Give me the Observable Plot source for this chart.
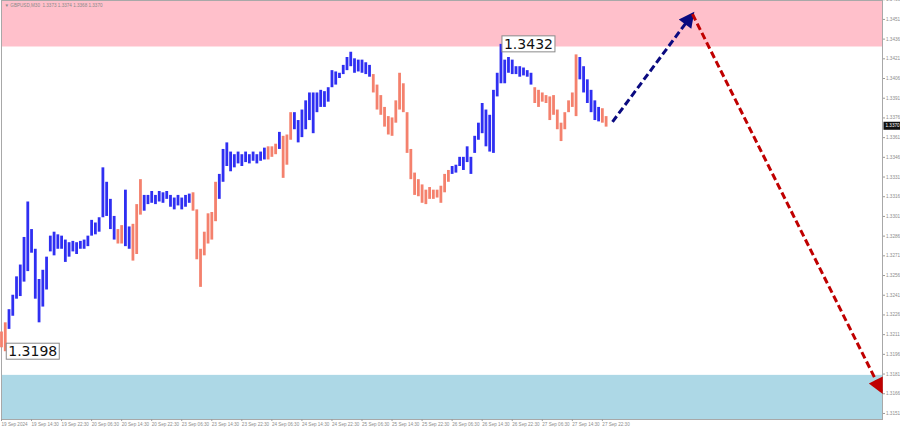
<!DOCTYPE html>
<html><head><meta charset="utf-8">
<script src="https://cdn.jsdelivr.net/npm/d3@7"></script>
<script src="https://cdn.jsdelivr.net/npm/@observablehq/plot@0.6"></script>
<style>html,body{margin:0;padding:0;background:#fff;} svg{display:block}</style>
</head><body>
<script>
// hourly bar ranges (GBPUSD M30 chart)
const highs = [1.3213,1.3220,1.3230,1.3241,1.3255,1.3264,1.3285,1.3312,1.3291,1.3276,
1.3253,1.3260,1.3270,1.3286,1.3289,1.3287,1.3286,1.3283,1.3281,1.3282,
1.3281,1.3282,1.3283,1.3286,1.3298,1.3296,1.3300,1.3338,1.3327,1.3314,
1.3301,1.3291,1.3294,1.3321,1.3293,1.3295,1.3310,1.3329,1.3317,1.3317,
1.3320,1.3317,1.3320,1.3319,1.3320,1.3317,1.3315,1.3317,1.3315,1.3317,
1.3318,1.3319,1.3306,1.3276,1.3289,1.3303,1.3304,1.3327,1.3333,1.3352,
1.3357,1.3350,1.3348,1.3350,1.3348,1.3350,1.3348,1.3350,1.3348,1.3350,
1.3353,1.3354,1.3354,1.3356,1.3365,1.3362,1.3363,1.3380,1.3380,1.3374,
1.3382,1.3389,1.3395,1.3395,1.3395,1.3397,1.3396,1.3399,1.3412,1.3411,
1.3410,1.3416,1.3422,1.3426,1.3421,1.3420,1.3420,1.3418,1.3416,1.3409,
1.3401,1.3393,1.3384,1.3377,1.3376,1.3389,1.3410,1.3402,1.3380,1.3352,
1.3334,1.3329,1.3325,1.3321,1.3323,1.3321,1.3321,1.3324,1.3333,1.3336,
1.3339,1.3340,1.3346,1.3346,1.3354,1.3346,1.3362,1.3372,1.3387,1.3382,
1.3378,1.3397,1.3410,1.3432,1.3420,1.3422,1.3420,1.3415,1.3415,1.3414,
1.3412,1.3410,1.3399,1.3397,1.3395,1.3393,1.3392,1.3393,1.3382,1.3372,
1.3380,1.3389,1.3395,1.3424,1.3422,1.3415,1.3405,1.3397,1.3389,1.3384,
1.3383,1.3377];
const lows = [1.3201,1.3198,1.3215,1.3225,1.3238,1.3240,1.3251,1.3259,1.3273,1.3238,
1.3220,1.3232,1.3245,1.3274,1.3271,1.3276,1.3276,1.3266,1.3270,1.3274,
1.3272,1.3276,1.3276,1.3278,1.3286,1.3287,1.3289,1.3300,1.3301,1.3291,
1.3283,1.3280,1.3280,1.3278,1.3276,1.3267,1.3272,1.3302,1.3305,1.3310,
1.3311,1.3310,1.3312,1.3311,1.3314,1.3308,1.3306,1.3309,1.3306,1.3308,
1.3311,1.3305,1.3268,1.3247,1.3271,1.3280,1.3283,1.3297,1.3314,1.3327,
1.3339,1.3335,1.3338,1.3341,1.3339,1.3342,1.3341,1.3343,1.3341,1.3343,
1.3344,1.3344,1.3346,1.3348,1.3352,1.3330,1.3340,1.3359,1.3367,1.3357,
1.3361,1.3367,1.3374,1.3364,1.3380,1.3384,1.3384,1.3388,1.3399,1.3401,
1.3406,1.3409,1.3412,1.3415,1.3410,1.3411,1.3410,1.3409,1.3407,1.3395,
1.3382,1.3378,1.3369,1.3363,1.3362,1.3372,1.3382,1.3380,1.3349,1.3329,
1.3317,1.3316,1.3311,1.3310,1.3314,1.3314,1.3315,1.3311,1.3319,1.3327,
1.3333,1.3334,1.3339,1.3336,1.3342,1.3333,1.3349,1.3359,1.3364,1.3354,
1.3350,1.3349,1.3392,1.3402,1.3402,1.3410,1.3409,1.3409,1.3407,1.3408,
1.3407,1.3401,1.3387,1.3384,1.3388,1.3387,1.3374,1.3378,1.3367,1.3358,
1.3367,1.3380,1.3384,1.3377,1.3405,1.3395,1.3387,1.3380,1.3374,1.3373,
1.3372,1.3369];
// wave segments: [first bar, last bar, direction]
const waves = [[0,1,"down"],[2,30,"up"],[31,32,"down"],[33,34,"up"],[35,37,"down"],
[38,50,"up"],[51,57,"down"],[58,70,"up"],[71,73,"down"],[74,74,"up"],[75,77,"down"],
[78,98,"up"],[99,119,"down"],[120,141,"up"],[142,153,"down"],[154,159,"up"],[160,161,"down"]];
const dateLabels = ["19 Sep 2024","19 Sep 14:30","19 Sep 22:30","20 Sep 06:30","20 Sep 14:30",
"20 Sep 22:30","23 Sep 06:30","23 Sep 14:30","23 Sep 22:30","24 Sep 06:30","24 Sep 14:30",
"24 Sep 22:30","25 Sep 06:30","25 Sep 14:30","25 Sep 22:30","26 Sep 06:30","26 Sep 14:30",
"26 Sep 22:30","27 Sep 06:30","27 Sep 14:30","27 Sep 22:30"];
const dateTickHours = [0,8,16,24,32,40,48,56,64,72,80,88,96,104,112,120,128,136,144,152,160];
const priceTicks = [1.3151,1.3166,1.3181,1.3196,1.3211,1.3226,1.3241,1.3256,1.3271,1.3286,
1.3301,1.3316,1.3331,1.3346,1.3361,1.3376,1.3391,1.3406,1.3421,1.3436,1.3451,1.3466];
const resistanceZone = [1.3430, 1.34654];
const supportZone = [1.31464, 1.3180];
const extremes = [{t:133, price:1.3432}, {t:1, price:1.3198}];
const forecastUp = [{t1:162.7, p1:1.3373, t2:184, p2:1.3455}];
const forecastDown = [{t1:184, p1:1.3455, t2:234.3, p2:1.3168}];
const lastPrice = 1.3370;
const header = "▼ GBPUSD,M30  1.3373 1.3374 1.3368 1.3370";

const BLUE = "#2f2ff2", SALMON = "#f4816d";
const NAVY = "#0a0a80", RED = "#c00000";
const bars = highs.map((h,i)=>({t:i, high:h, low:lows[i],
  dir: waves.find(w=>i>=w[0] && i<=w[1])[2]}));

const chart = Plot.plot({
  width: 900, height: 430,
  marginLeft: 1, marginRight: 18, marginTop: 0, marginBottom: 11,
  x: {domain: [0, 234.6], axis: null},
  y: {domain: [1.31464, 1.34654], axis: null},
  style: {fontFamily: "Liberation Sans", background: "white", overflow: "visible"},
  marks: [
    Plot.rectY([resistanceZone], {y1: d=>d[0], y2: d=>d[1], fill: "#ffc0cb"}),
    Plot.rectY([supportZone], {y1: d=>d[0], y2: d=>d[1], fill: "#add8e6"}),
    Plot.frame({stroke: "#a8a8a8"}),
    Plot.ruleX(bars, {x: "t", y1: "low", y2: "high",
      stroke: d => d.dir === "up" ? BLUE : SALMON, strokeWidth: 2.8}),
    Plot.axisY(priceTicks, {anchor: "right", tickFormat: d => d.toFixed(4),
      tickSize: 2, tickPadding: 1.5, fontSize: 4.6, fill: "#8c8c8c", stroke: "#9a9a9a"}),
    Plot.axisX(dateTickHours, {anchor: "bottom", tickFormat: d => dateLabels[d/8],
      textAnchor: "start", tickSize: 2, tickPadding: 1.5, fontSize: 4.6, fill: "#8c8c8c", stroke: "#9a9a9a"}),
    Plot.link(forecastUp, {x1: "t1", y1: "p1", x2: "t2", y2: "p2",
      stroke: NAVY, strokeWidth: 3, strokeDasharray: "7,3.5"}),
    Plot.link(forecastDown, {x1: "t1", y1: "p1", x2: "t2", y2: "p2",
      stroke: RED, strokeWidth: 3, strokeDasharray: "7,3.5"}),
    Plot.text(extremes, {x: "t", y: "price", text: d => d.price.toFixed(4), dx: 3,
      textAnchor: "start", fontSize: 14, fontFamily: "DejaVu Sans", fill: "#111"}),
    Plot.text([lastPrice], {x: () => 234.6, y: d => d, text: d => d.toFixed(4), dx: 3,
      textAnchor: "start", fontSize: 4.6, fill: "white"}),
    Plot.text([header], {frameAnchor: "top-left", text: d => d, dx: 3, dy: 3,
      textAnchor: "start", fontSize: 4.6, fill: "#8a8a8a"})
  ]
});
document.body.append(chart);

const NS = "http://www.w3.org/2000/svg";
const textGroups = chart.querySelectorAll('g[aria-label="text"]');
function boxes(g, pad, fill, stroke, toEdge) {
  if (!g) return;
  g.querySelectorAll("text").forEach(t => {
    const b = t.getBBox();
    const r = document.createElementNS(NS, "rect");
    r.setAttribute("x", b.x - pad[0]);
    r.setAttribute("y", b.y - pad[1]);
    r.setAttribute("width", toEdge ? (900 - b.x + pad[0]) : b.width + 2*pad[0]);
    r.setAttribute("height", b.height + 2*pad[1]);
    r.setAttribute("fill", fill);
    if (stroke) { r.setAttribute("stroke", stroke); r.setAttribute("stroke-width", 1); }
    if (t.getAttribute("transform")) r.setAttribute("transform", t.getAttribute("transform"));
    t.parentNode.insertBefore(r, t);
  });
}
boxes(textGroups[0], [2, 0], "white", "#8a8a8a", false);
boxes(textGroups[1], [2, 1.5], "#111", null, true);

// filled arrow heads
const defs = document.createElementNS(NS, "defs");
[["headNavy", NAVY], ["headRed", RED]].forEach(([id, c]) => {
  const m = document.createElementNS(NS, "marker");
  m.setAttribute("id", id); m.setAttribute("viewBox", "0 0 10 10");
  m.setAttribute("refX", "8"); m.setAttribute("refY", "5");
  m.setAttribute("markerWidth", "6.2"); m.setAttribute("markerHeight", "5.2");
  m.setAttribute("orient", "auto");
  const p = document.createElementNS(NS, "path");
  p.setAttribute("d", "M0,0L10,5L0,10z"); p.setAttribute("fill", c);
  m.appendChild(p); defs.appendChild(m);
});
chart.insertBefore(defs, chart.firstChild);
const linkGroups = chart.querySelectorAll('g[aria-label="link"]');
linkGroups.forEach((g, k) => g.querySelectorAll("path").forEach(p =>
  p.setAttribute("marker-end", k === 0 ? "url(#headNavy)" : "url(#headRed)")));
</script>
</body></html>
